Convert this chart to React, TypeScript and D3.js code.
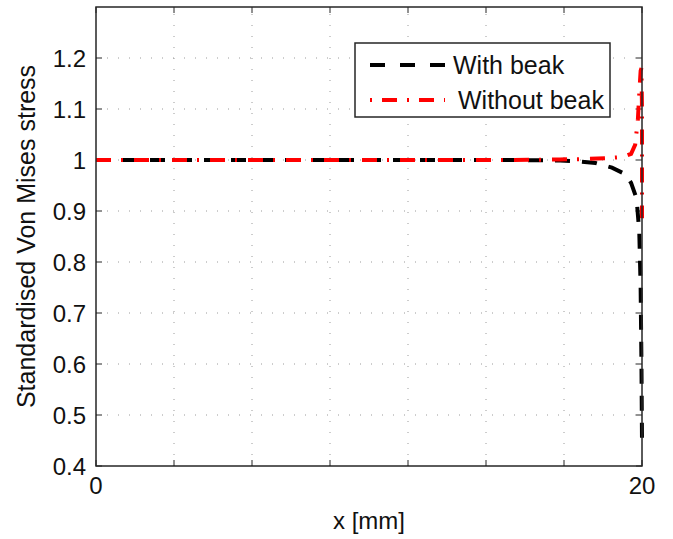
import React from "react";
import * as d3 from "d3";

const xWith = [0, 2, 5, 8, 10, 12, 15, 17, 17.5, 18.3, 18.9, 19.4, 19.6, 19.8, 19.9, 19.95, 19.98, 20];
const yWith = [1.0, 1.0, 1.0, 1.0, 1.0, 1.0, 1.0, 0.999, 0.998, 0.994, 0.985, 0.972, 0.955, 0.925, 0.86, 0.75, 0.6, 0.45];
const xWithout = [0, 2, 5, 8, 10, 12, 15, 17, 18, 18.8, 19.3, 19.6, 19.75, 19.85, 19.9, 19.95, 19.98, 20, 20];
const yWithout = [1.0, 1.0, 1.0, 1.0, 1.0, 1.0, 1.0, 1.001, 1.002, 1.004, 1.006, 1.012, 1.03, 1.08, 1.13, 1.175, 1.18, 1.1, 0.886];
const yTicks = [0.4, 0.5, 0.6, 0.7, 0.8, 0.9, 1.0, 1.1, 1.2];
const yTickLabels = ["0.4", "0.5", "0.6", "0.7", "0.8", "0.9", "1", "1.1", "1.2"];
const xTicks = [0, 20 / 7, 40 / 7, 60 / 7, 80 / 7, 100 / 7, 120 / 7, 20];
const xTickLabels = ["0", "", "", "", "", "", "", "20"];
const legendLabels = ["With beak", "Without beak"];

const W = 673, H = 539;
const L = 96, R = 642, T = 7, B = 466;
const FONT = "'Liberation Sans', Arial, sans-serif";

export default function App() {
  const x = d3.scaleLinear().domain([0, 20]).range([L, R]);
  const y = d3.scaleLinear().domain([0.4, 1.3]).range([B, T]);
  const pWith = d3.line<[number, number]>().x(d => x(d[0])).y(d => y(d[1]))(xWith.map((v, i) => [v, yWith[i]]));
  const pWithout = d3.line<[number, number]>().x(d => x(d[0])).y(d => y(d[1]))(xWithout.map((v, i) => [v, yWithout[i]]));
  const gridCol = "#9a9a9a";
  const axisCol = "#262626";
  const fs = 24;
  const fl = 25;
  return (
    <div style={{ position: "fixed", left: 0, top: 0 }}>
      <svg width={W} height={H} style={{ display: "block", background: "#fff" }}>
        <rect x={0} y={0} width={W} height={H} fill="#fff" />
        {/* grid */}
        {yTicks.filter(v => v > 0.4).map((v, i) => (
          <line key={"gy" + i} x1={L} x2={R} y1={y(v)} y2={y(v)} stroke={gridCol} strokeWidth={1} strokeDasharray="1,10" />
        ))}
        {xTicks.filter(v => v > 0 && v < 20).map((v, i) => (
          <line key={"gx" + i} x1={x(v)} x2={x(v)} y1={B} y2={T} stroke={gridCol} strokeWidth={1} strokeDasharray="1,10" />
        ))}
        {/* ticks */}
        {yTicks.map((v, i) => (
          <g key={"ty" + i}>
            <line x1={L} x2={L + 6} y1={y(v)} y2={y(v)} stroke={axisCol} strokeWidth={1} />
            <line x1={R} x2={R - 6} y1={y(v)} y2={y(v)} stroke={axisCol} strokeWidth={1} />
            <text x={L - 10} y={y(v)} textAnchor="end" dominantBaseline="central" fontFamily={FONT} fontSize={fs} fill="#111">{yTickLabels[i]}</text>
          </g>
        ))}
        {xTicks.map((v, i) => (
          <g key={"tx" + i}>
            <line x1={x(v)} x2={x(v)} y1={B} y2={B - 6} stroke={axisCol} strokeWidth={1} />
            <line x1={x(v)} x2={x(v)} y1={T} y2={T + 6} stroke={axisCol} strokeWidth={1} />
            <text x={x(v)} y={B + 19} textAnchor="middle" dominantBaseline="central" fontFamily={FONT} fontSize={fs} fill="#111">{xTickLabels[i]}</text>
          </g>
        ))}
        {/* data */}
        <path d={pWith || ""} fill="none" stroke="#000" strokeWidth={4} strokeDasharray="15,12" />
        <path d={pWithout || ""} fill="none" stroke="#ff0000" strokeWidth={4} strokeDasharray="15,10,2,11" />
        {/* axes box */}
        <rect x={L} y={T} width={R - L} height={B - T} fill="none" stroke={axisCol} strokeWidth={1.5} />
        {/* labels */}
        <text x={(L + R) / 2} y={520} textAnchor="middle" dominantBaseline="central" fontFamily={FONT} fontSize={24} fill="#111">x [mm]</text>
        <text transform={`translate(26, ${(T + B) / 2}) rotate(-90)`} textAnchor="middle" dominantBaseline="central" fontFamily={FONT} fontSize={fl} fill="#111">Standardised Von Mises stress</text>
        {/* legend */}
        <rect x={355} y={43} width={255} height={74} fill="#fff" stroke={axisCol} strokeWidth={1.5} />
        <line x1={370} x2={445} y1={65} y2={65} stroke="#000" strokeWidth={4} strokeDasharray="15,15" />
        <text x={453} y={65} dominantBaseline="central" fontFamily={FONT} fontSize={fl} fill="#111">{legendLabels[0]}</text>
        <line x1={370} x2={445} y1={100} y2={100} stroke="#ff0000" strokeWidth={4} strokeDasharray="2,10,15,10" />
        <text x={458} y={100} dominantBaseline="central" fontFamily={FONT} fontSize={fl} fill="#111">{legendLabels[1]}</text>
      </svg>
    </div>
  );
}
